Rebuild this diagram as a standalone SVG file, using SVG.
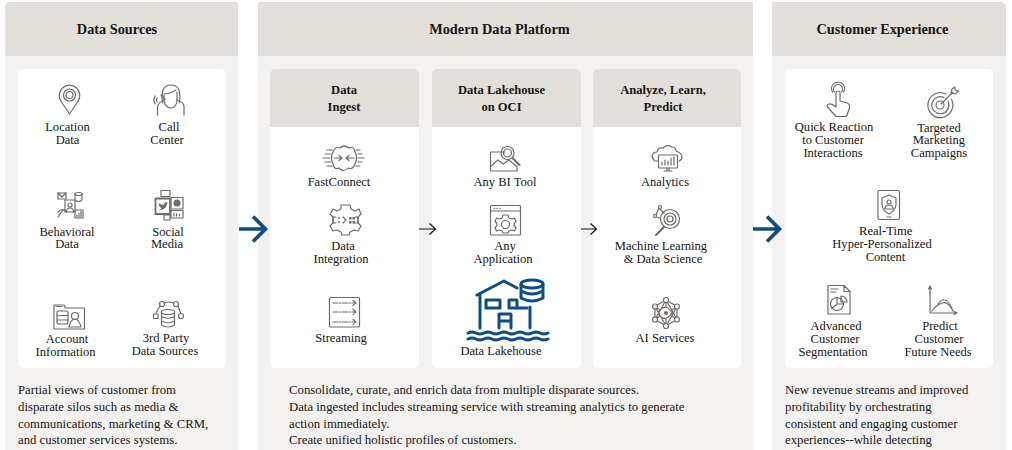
<svg xmlns="http://www.w3.org/2000/svg" width="1012" height="450" viewBox="0 0 1012 450">
<defs><style>
text{font-family:"Liberation Serif","Times New Roman",serif;font-size:12.55px;fill:#161513}
.c{text-anchor:middle}
.t{font-size:14.3px;font-weight:700;text-anchor:middle}
.h{font-size:12.6px;font-weight:700;text-anchor:middle}
.p{font-size:12.75px}
.i{fill:none;stroke:#6f6b67;stroke-width:1.2;stroke-linecap:round;stroke-linejoin:round}
.d{fill:#6f6b67;stroke:none}
.b{fill:none;stroke:#0f4c81;stroke-width:3;stroke-linecap:round;stroke-linejoin:round}
.big{fill:none;stroke:#0f4c81;stroke-width:3.6;stroke-linejoin:miter}
.small{fill:none;stroke:#161513;stroke-width:1.2}
.panel{fill:#f4f2f0}.head{fill:#e3e0db}.card{fill:#fff}
</style></defs>
<rect width="1012" height="450" fill="#fff"/>
<g id="panels">
<path class="panel" d="M5 450V7a5 5 0 0 1 5-5H238V450Z"/>
<path class="head" d="M5 56V7a5 5 0 0 1 5-5H238V56Z"/>
<rect class="panel" x="258" y="2" width="495" height="448"/>
<rect class="head" x="258" y="2" width="495" height="54"/>
<path class="panel" d="M772 450V2H1001a5 5 0 0 1 5 5V450Z"/>
<path class="head" d="M772 56V2H1001a5 5 0 0 1 5 5V56Z"/>
<rect class="card" x="18" y="69" width="208" height="299" rx="5"/>
<rect class="card" x="270" y="69" width="149" height="299" rx="5"/>
<rect class="card" x="432" y="69" width="149" height="299" rx="5"/>
<rect class="card" x="593" y="69" width="148" height="299" rx="5"/>
<rect class="card" x="785" y="69" width="208" height="299" rx="5"/>
<path class="head" d="M270 127V74a5 5 0 0 1 5-5H414a5 5 0 0 1 5 5V127Z"/>
<path class="head" d="M432 127V74a5 5 0 0 1 5-5H576a5 5 0 0 1 5 5V127Z"/>
<path class="head" d="M593 127V74a5 5 0 0 1 5-5H736a5 5 0 0 1 5 5V127Z"/>
<text class="t" x="117" y="34">Data Sources</text>
<text class="t" x="499.500" y="34">Modern Data Platform</text>
<text class="t" x="882.500" y="34">Customer Experience</text>
<text class="h" x="344" y="94">Data</text><text class="h" x="344" y="111">Ingest</text>
<text class="h" x="501.500" y="94">Data Lakehouse</text><text class="h" x="501.500" y="111">on OCI</text>
<text class="h" x="663" y="94">Analyze, Learn,</text><text class="h" x="663" y="111">Predict</text>
</g>
<g id="connectors">
<path class="big" d="M239 229H265M253 216.500L265.500 229L253 241.500"/>
<path class="big" d="M753 229H779M767 216.500L779.500 229L767 241.500"/>
<path class="small" d="M419 229H435M429.500 223.500L435.500 229L429.500 234.500"/>
<path class="small" d="M581 229H596M590.500 223.500L596.500 229L590.500 234.500"/>
</g>
<g id="location-data">
<path class="i" d="M69.500 114L61.500 102A10.300 10.300 0 1 1 77.500 102Z"/><circle class="i" cx="69.500" cy="95" r="6"/><circle class="i" cx="69.500" cy="95" r="3.500"/>
<text class="c" x="67.500" y="131">Location</text><text class="c" x="67.500" y="143.500">Data</text></g>
<g id="call-center">
<path class="i" d="M157.500 115V107Q158 102 165 100M184 115V107Q184 102 177 100M163 103Q161 98 163 90Q165 85 171 85Q177 85 179 90Q181 98 179 103"/><path class="i" d="M164 94Q170 94 176 90M164 95V101Q166 108 171 108Q176 108 177 101V92M161 95L165 99M155 96Q153 100 155 104M157 98Q156 100 157 102"/>
<text class="c" x="169" y="131">Call</text><text class="c" x="167" y="143.500">Center</text></g>
<g id="behavioral-data">
<rect class="i" x="58" y="193" width="8" height="6"/><path class="i" d="M58 193L62 197L66 193"/><ellipse class="i" cx="78.500" cy="194" rx="3.500" ry="1.500"/><path class="i" d="M75 194V200Q78.500 203 82 200V194"/><rect class="i" x="65" y="200" width="10" height="12"/><circle class="i" cx="70" cy="205" r="2"/><path class="i" d="M66.500 212Q66.500 208 70 208Q73.500 208 73.500 212M58 217L63 210M58 212Q62 208 65 211"/><rect class="i" x="75" y="210" width="8" height="8"/><path class="i" d="M77 217V215M79 217V213M81 217V211"/>
<text class="c" x="67" y="235.700">Behavioral</text><text class="c" x="67" y="248">Data</text></g>
<g id="social-media">
<rect class="i" x="161" y="190.500" width="9" height="6"/><rect class="i" x="155.500" y="198.500" width="14.500" height="15.500" stroke-width="1.800" style="stroke-width:1.800"/><path class="d" d="M158.500 203Q162 205.500 163.500 205Q164 201.500 167 202.500L168 202.500L167 204Q166 210 158.500 210Q161 209 161.500 208Q159 207.500 158.500 203Z"/><rect class="i" x="171" y="197.500" width="12" height="11.500"/><circle class="d" cx="177" cy="203" r="3.500"/><rect class="i" x="171" y="210.500" width="12" height="7.500"/><path class="i" d="M174 216V213M176.500 216V213.500M179.500 216V214"/><rect class="i" x="164" y="215" width="6" height="5"/>
<text class="c" x="168" y="235.700">Social</text><text class="c" x="167" y="248">Media</text></g>
<g id="account-information">
<path class="i" d="M54 329V305H63Q65 305 65 307V308H84.500V329Z"/><rect class="i" x="57" y="311" width="11" height="13" rx="2"/><path class="i" d="M57 315.500H68M57 320H68"/><circle class="i" cx="75" cy="316" r="3.500"/><path class="i" d="M69 327Q71 319 75 319Q79 319 81 327ZM56 306.500H62"/>
<text class="c" x="67" y="343">Account</text><text class="c" x="65.500" y="355.700">Information</text></g>
<g id="third-party">
<ellipse class="i" cx="168" cy="312" rx="6.500" ry="2.500"/><path class="i" d="M161.500 312V325Q168 329 174.500 325V312M161.500 316.500Q168 320 174.500 316.500M161.500 321Q168 324.500 174.500 321"/><circle class="i" cx="162" cy="304" r="2.500"/><circle class="i" cx="176" cy="304" r="2.500"/><rect class="i" x="153.500" y="314" width="4.500" height="4.500"/><circle class="i" cx="181" cy="316" r="2.500"/><path class="i" d="M164.500 303Q169 301 173.500 303M160 306L156 313M178 306L180.500 313"/>
<text class="c" x="166" y="342">3rd Party</text><text class="c" x="165" y="355">Data Sources</text></g>
<g id="fastconnect">
<path class="i" d="M333 152Q335 146 340 148Q344 144 349 148Q354 146 355 152Q358 158 355 164Q353 170 348 168Q344 173 339 168Q334 170 333 164Q330 158 333 152Z"/><path class="i" d="M334 158H342M339 155.500L342 158L339 160.500M354 158H346M349 155.500L346 158L349 160.500M327 150H332M325 154H331M323 158H330M325 162H331M327 166H332M356 150H360M358 154H362M358 158H364M358 162H362M356 166H360"/>
<text class="c" x="339" y="186">FastConnect</text></g>
<g id="data-integration">
<path class="i" d="M341 205H350L351 209L355 211L359 209L361 214L358 217V223L361 226L358 231L354 230L350 232L349 235H342L341 232L337 230L333 231L330 226L333 223V217L330 214L333 209L337 211L341 209Z"/><path class="i" d="M336 217H333V223H336M355 217H358V223H355M343 217L346 220L343 223"/><rect class="d" x="349" y="217" width="2.500" height="2.500"/><rect class="d" x="352.500" y="217" width="2.500" height="2.500"/><rect class="d" x="349" y="221" width="2.500" height="2.500"/><rect class="d" x="352.500" y="221" width="2.500" height="2.500"/><circle class="d" cx="339" cy="218" r="1"/><circle class="d" cx="339" cy="222" r="1"/>
<text class="c" x="343" y="250">Data</text><text class="c" x="341" y="263">Integration</text></g>
<g id="streaming">
<rect class="i" x="329.500" y="297.500" width="30" height="29.500" rx="1"/><path class="i" d="M333 303H356M353 300.500L356 303L353 305.500M333 312H356M353 309.500L356 312L353 314.500M333 322H356M353 319.500L356 322L353 324.500" stroke-dasharray="5 1.500 1.500 1.500"/>
<text class="c" x="341" y="342">Streaming</text></g>
<g id="any-bi-tool">
<path class="i" d="M505 152H490.500V171H517V166"/><path class="i" d="M491 166L498 160L503 164L509 160L516 166"/><circle class="i" cx="507.500" cy="153" r="6.500"/><circle class="i" cx="507.500" cy="153" r="4"/><path class="i" d="M512.500 158L519.500 165" style="stroke-width:2"/>
<text class="c" x="505" y="186">Any BI Tool</text></g>
<g id="any-application">
<rect class="i" x="490.500" y="205.500" width="30" height="29.500" rx="1"/><path class="i" d="M490.500 211H520.500"/><path class="i" d="M503 215H508L509 218L512 219L514.500 218L516 221.500L514 223.500V225.500L516 227.500L514.500 231L512 230L509 231L508 233H503L502 231L499 230L496.500 231L495 227.500L497 225.500V223.500L495 221.500L496.500 218L499 219L502 218Z"/><circle class="i" cx="505.500" cy="224.500" r="4"/><path class="i" d="M494 208.300H494.500M497 208.300H497.500M500 208.300H500.500"/>
<text class="c" x="505" y="250">Any</text><text class="c" x="503" y="263">Application</text></g>
<g id="data-lakehouse">
<path class="b" d="M477 295L504 281L517 288M480 294V328M530 307V328"/><rect class="b" x="486" y="300" width="14" height="8"/><path class="b" d="M509 300H517V308H527M509 300V308H517"/><path class="b" d="M499 328V314H511V328M499 321H511"/><ellipse class="b" cx="532" cy="284" rx="11" ry="4"/><path class="b" d="M521 284V298Q532 304 543 298V284M521 291Q532 297 543 291"/><path class="b" d="M468 333Q472 331 476 333T484 333T492 333T500 333T508 333T516 333T524 333T532 333T540 333T548 333M468 339Q472 337 476 339T484 339T492 339T500 339T508 339T516 339T524 339T532 339T540 339T548 339"/>
<text class="c" x="501" y="355">Data Lakehouse</text></g>
<g id="analytics">
<path class="i" d="M658 161H655Q652 159 652 156Q653 152 657 152Q658 147 663 148Q667 144 672 147Q676 147 676 151Q682 153 682 157Q682 160 679 161"/><rect class="i" x="658.500" y="155" width="19" height="13" rx="1"/><path class="i" d="M662 165V162M665 165V160M668 165V161M671 165V158M674 165V157M664 171H672M667 168V171M669 168V171"/>
<text class="c" x="665" y="186">Analytics</text></g>
<g id="ml">
<circle class="i" cx="670" cy="219" r="9.500"/><circle class="i" cx="670" cy="219" r="6"/><circle class="i" cx="670" cy="219" r="3"/><path class="i" d="M664 227L656 235" style="stroke-width:2"/><circle class="i" cx="660" cy="207" r="1.500"/><circle class="i" cx="655" cy="216" r="1.500"/><path class="i" d="M659 208L656 215M660 209L664 213M656.500 217L660 218"/>
<text class="c" x="661" y="250">Machine Learning</text><text class="c" x="663" y="263">&amp; Data Science</text></g>
<g id="ai-services">
<path class="i" d="M666 300L677 306.500V319.500L666 326L655 319.500V306.500ZM666 300V307M666 326V319M655 306.500L660 310M677 306.500L672 310M655 319.500L660 316M677 319.500L672 316M660 310Q666 303 672 313Q666 322 660 316Q657 313 660 310M655 306.500L666 326L677 306.500M655 319.500L666 300L677 319.500"/><circle class="d" cx="666" cy="313" r="2"/><g><circle class="i" cx="666" cy="300" r="2.500" style="fill:#fff"/><circle class="i" cx="677" cy="306.500" r="2.500" style="fill:#fff"/><circle class="i" cx="677" cy="319.500" r="2.500" style="fill:#fff"/><circle class="i" cx="666" cy="326" r="2.500" style="fill:#fff"/><circle class="i" cx="655" cy="319.500" r="2.500" style="fill:#fff"/><circle class="i" cx="655" cy="306.500" r="2.500" style="fill:#fff"/></g>
<text class="c" x="665" y="342">AI Services</text></g>
<g id="quick-reaction">
<path class="i" d="M836 104V93Q836 91 838 91Q840 91 840 93V101L847 103Q850 104 849.500 108L846.500 116.500H836L827.500 107Q826.500 104.500 829 104Q831 103 836 107Z"/><path class="i" d="M834.500 92A4.500 4.500 0 1 1 841.500 92M832.500 92A6.500 6.500 0 1 1 843.500 92"/>
<text class="c" x="834" y="131">Quick Reaction</text><text class="c" x="833" y="144">to Customer</text><text class="c" x="833" y="156.500">Interactions</text></g>
<g id="targeted-marketing">
<path class="i" d="M951.500 99.500A12.500 12.500 0 1 1 946 94"/><path class="i" d="M948 101.500A8.500 8.500 0 1 1 944 97.500"/><circle class="i" cx="940" cy="105" r="4"/><path class="i" d="M941 104L953 92M952 89L951 93L955 94L958.500 91L955 90L955 87Z"/>
<text class="c" x="939" y="132">Targeted</text><text class="c" x="939" y="144">Marketing</text><text class="c" x="939" y="157">Campaigns</text></g>
<g id="real-time">
<rect class="i" x="878" y="190.500" width="21.500" height="29" rx="1.500"/><path class="i" d="M889 195L896 198V205Q895 211 889 214Q883 211 882 205V198ZM887 217H891"/><circle class="i" cx="889" cy="202" r="2"/><path class="i" d="M885 209Q885 205 889 205Q893 205 893 209Z"/>
<text class="c" x="885.700" y="235">Real-Time</text><text class="c" x="882" y="248">Hyper-Personalized</text><text class="c" x="885.500" y="261">Content</text></g>
<g id="advanced-segmentation">
<path class="i" d="M828 285.500H844L850 291.500V314H828ZM844 285.500V291.500H850M831 289H838M831 292H836"/><circle class="i" cx="837" cy="304" r="6.500"/><path class="i" d="M837 297.500V304H843.500M837 304L832 308.500M841 296V302H847A6 6 0 0 0 841 296Z"/>
<text class="c" x="836" y="330">Advanced</text><text class="c" x="835" y="343">Customer</text><text class="c" x="833" y="356">Segmentation</text></g>
<g id="predict">
<path class="i" d="M930 287V313H956M928.500 289L930 286L931.500 289M954 311.500L957 313L954 314.500"/><path class="i" d="M932 311Q936 305 942 303Q948 301 953 311"/><path class="i" d="M938 304Q945 294 952 308" stroke-dasharray="1.500 1.500"/>
<text class="c" x="940" y="330">Predict</text><text class="c" x="939" y="343">Customer</text><text class="c" x="938" y="356">Future Needs</text></g>
<g id="captions">
<text class="p" x="18" y="393.500">Partial views of customer from</text><text class="p" x="18" y="410.500">disparate silos such as media &amp;</text><text class="p" x="18" y="427.500">communications, marketing &amp; CRM,</text><text class="p" x="18" y="444">and customer services systems.</text>
<text class="p" x="289" y="393.500">Consolidate, curate, and enrich data from multiple disparate sources.</text><text class="p" x="289" y="410.500">Data ingested includes streaming service with streaming analytics to generate</text><text class="p" x="289" y="427.500">action immediately.</text><text class="p" x="289" y="444">Create unified holistic profiles of customers.</text>
<text class="p" x="785" y="393.500">New revenue streams and improved</text><text class="p" x="785" y="410.500">profitability by orchestrating</text><text class="p" x="785" y="427.500">consistent and engaging customer</text><text class="p" x="785" y="444">experiences--while detecting</text>
</g>
</svg>
